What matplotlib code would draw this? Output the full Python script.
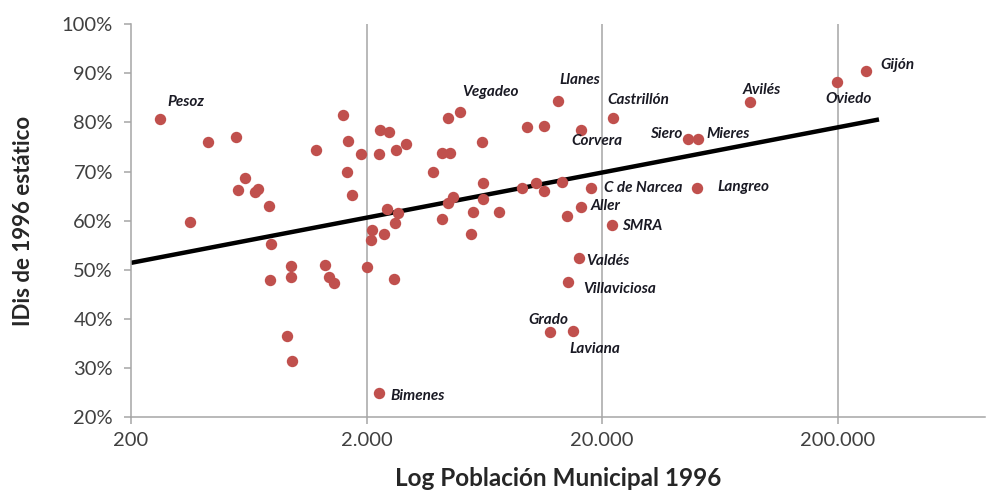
import matplotlib
matplotlib.use("Agg")
import matplotlib.pyplot as plt
from matplotlib.ticker import FixedLocator, FuncFormatter

plt.rcParams['font.family'] = ['Lato', 'DejaVu Sans']

# municipal population 1996 and static IDis (%) per municipality
poblacion = [266, 356, 425, 558, 569, 610, 672, 692, 771, 786,
             779, 956, 956, 919, 965, 1221, 1333, 1387, 1456, 1590,
             1669, 1895, 1653, 1736, 2010, 2110, 2090, 2260, 2282, 2493,
             2260, 2669, 2943, 2444, 2722, 2643, 2374, 2618, 3832, 4184,
             4525, 4437, 4989, 6186, 6246, 4661, 4437, 6246, 5666, 7305,
             4184, 5555, 9149, 10491, 11342, 9606, 11342, 13010, 13525, 16286,
             17960, 22277, 16286, 14204, 22060, 15970, 14344, 12029, 15064, 46366,
             51138, 50644, 85030, 199040, 264240]
idis = [80.6, 59.8, 76.1, 77.1, 66.3, 68.6, 65.9, 66.5, 62.9, 55.3,
        48.0, 50.8, 48.6, 36.5, 31.4, 74.3, 51.0, 48.6, 47.3, 81.6,
        76.3, 73.5, 69.8, 65.3, 50.6, 58.0, 56.1, 24.9, 78.4, 78.0,
        73.5, 74.3, 75.5, 62.4, 61.6, 59.6, 57.3, 48.2, 69.8, 73.7,
        73.7, 80.8, 82.2, 76.1, 67.6, 64.9, 63.5, 64.5, 61.8, 61.8,
        60.4, 57.3, 66.7, 67.6, 66.1, 79.0, 79.2, 84.3, 67.8, 78.4,
        66.7, 80.8, 62.7, 61.0, 59.2, 52.4, 47.6, 37.3, 37.6, 76.7,
        76.7, 66.7, 84.1, 88.2, 90.4]

# labelled municipalities: (name, index into arrays, dx px, dy px, align)
etiquetas = [
    ("Pesoz", 0, 26, 17, "center"),
    ("Vegadeo", 42, 31, 20, "center"),
    ("Bimenes", 27, 11, -3, "left"),
    ("Llanes", 57, 22, 21, "center"),
    ("Castrillón", 61, 25, 18, "center"),
    ("Corvera", 59, 16, -11, "center"),
    ("C de Narcea", 60, 13, 0, "left"),
    ("Aller", 62, 10, 1, "left"),
    ("SMRA", 64, 10, -1, "left"),
    ("Valdés", 65, 7, -3, "left"),
    ("Villaviciosa", 66, 15, -7, "left"),
    ("Grado", 67, -2, 12, "center"),
    ("Laviana", 68, 22, -18, "center"),
    ("Siero", 69, -6, 5, "right"),
    ("Mieres", 70, 8, 5, "left"),
    ("Langreo", 71, 20, 1, "left"),
    ("Avilés", 72, 12, 12, "center"),
    ("Oviedo", 73, 12, -17, "center"),
    ("Gijón", 74, 14, 6, "left"),
]

# regression line end points
tendencia_x = [200, 300000]
tendencia_y = [51.4, 80.6]

xticks = [200, 2000, 20000, 200000]
yticks = [20, 30, 40, 50, 60, 70, 80, 90, 100]

fig = plt.figure(figsize=(9.88, 4.93), dpi=100)
ax = fig.add_axes([0.1326, 0.154, 0.8644, 0.797])

ax.set_xscale("log")
ax.set_xlim(200, 846000)
ax.set_ylim(20, 100)

for xv in xticks[1:]:
    ax.axvline(xv, color="#a6a6a6", lw=1.1, zorder=0)

ax.plot(tendencia_x, tendencia_y, color="black", lw=3.2, zorder=2, solid_capstyle="butt")
ax.plot(poblacion, idis, "o", color="#c0504d", markersize=8.2, markeredgewidth=0, zorder=3)

for nombre, i, dx, dy, ha in etiquetas:
    ax.annotate(nombre, (poblacion[i], idis[i]), xytext=(dx, dy),
                textcoords="offset pixels", ha=ha, va="center",
                fontsize=11, fontweight="bold", fontstyle="italic",
                color="#1a1a24", zorder=4)

ax.xaxis.set_major_locator(FixedLocator(xticks))
ax.xaxis.set_minor_locator(FixedLocator([]))
ax.xaxis.set_major_formatter(FuncFormatter(lambda v, p: f"{int(v):,}".replace(",", ".")))
ax.yaxis.set_major_locator(FixedLocator(yticks))
ax.yaxis.set_major_formatter(FuncFormatter(lambda v, p: f"{int(v)}%"))

for s in ["top", "right"]:
    ax.spines[s].set_visible(False)
for s in ["left", "bottom"]:
    ax.spines[s].set_color("#a6a6a6")
    ax.spines[s].set_linewidth(1.1)

ax.tick_params(axis="both", colors="#a6a6a6", labelcolor="#404040", labelsize=14.5,
               length=5, width=1.1)
ax.tick_params(axis="x", pad=6)
ax.tick_params(axis="y", pad=8)

ax.set_ylabel("IDis de 1996 estático", fontsize=16, fontweight="bold", color="#262626", labelpad=20)
ax.set_xlabel("Log Población Municipal 1996", fontsize=17.5, fontweight="bold", color="#262626", labelpad=13)

fig.savefig("out.png", dpi=100)
